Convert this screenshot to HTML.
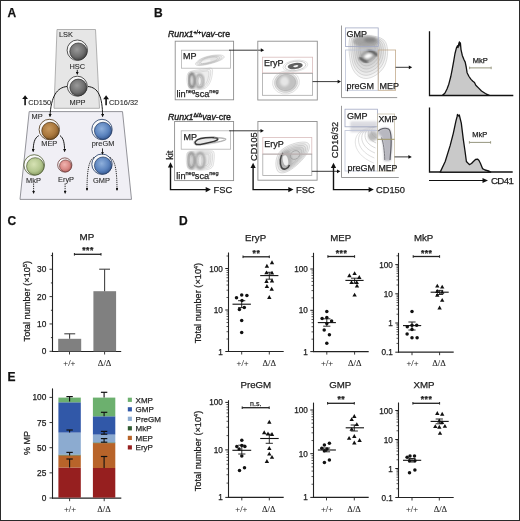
<!DOCTYPE html>
<html><head><meta charset="utf-8"><style>
html,body{margin:0;padding:0;background:#fff;}
svg{display:block;will-change:transform;}
svg text{stroke:#1e1e1e;stroke-width:0.25px;}
svg text.ta{stroke:#2a2a2a;stroke-width:0.1px;}
svg text.tt{stroke-width:0.4px;}
</style></head><body>
<svg width="520" height="521" viewBox="0 0 520 521">
<rect x="0" y="0" width="520" height="521" fill="#fff"/>

<defs>
 <radialGradient id="gGray" cx="0.42" cy="0.38" r="0.7">
   <stop offset="0" stop-color="#9a9a9a"/><stop offset="0.6" stop-color="#6e6e6e"/><stop offset="1" stop-color="#3a3a3a"/>
 </radialGradient>
 <radialGradient id="gBrown" cx="0.42" cy="0.38" r="0.7">
   <stop offset="0" stop-color="#c99a5e"/><stop offset="0.6" stop-color="#a8763c"/><stop offset="1" stop-color="#6e4a20"/>
 </radialGradient>
 <radialGradient id="gBlue" cx="0.42" cy="0.38" r="0.7">
   <stop offset="0" stop-color="#8fb0dc"/><stop offset="0.6" stop-color="#5a82bd"/><stop offset="1" stop-color="#2f5088"/>
 </radialGradient>
 <radialGradient id="gGreen" cx="0.42" cy="0.38" r="0.7">
   <stop offset="0" stop-color="#d6e2b4"/><stop offset="0.6" stop-color="#b3c68e"/><stop offset="1" stop-color="#7d9058"/>
 </radialGradient>
 <radialGradient id="gPink" cx="0.42" cy="0.38" r="0.7">
   <stop offset="0" stop-color="#f0b4b0"/><stop offset="0.6" stop-color="#d88884"/><stop offset="1" stop-color="#a85a58"/>
 </radialGradient>
 <marker id="ah" viewBox="0 0 6 6" refX="5" refY="3" markerWidth="4" markerHeight="4" orient="auto">
   <path d="M0,0 L6,3 L0,6 z" fill="#111"/>
 </marker>
 <marker id="ahs" viewBox="0 0 6 6" refX="5" refY="3" markerWidth="3.2" markerHeight="3.2" orient="auto">
   <path d="M0,0 L6,3 L0,6 z" fill="#111"/>
 </marker>
 <filter id="bl" x="-20%" y="-20%" width="140%" height="140%"><feGaussianBlur stdDeviation="0.8"/></filter>
 <filter id="bl2" x="-20%" y="-20%" width="140%" height="140%"><feGaussianBlur stdDeviation="1.0"/></filter>
</defs>
<text x="7.5" y="17" font-family="Liberation Sans, sans-serif" font-size="12" font-weight="bold" fill="#111">A</text>
<text x="154" y="17" font-family="Liberation Sans, sans-serif" font-size="12" font-weight="bold" fill="#111">B</text>
<text x="7.5" y="225.4" font-family="Liberation Sans, sans-serif" font-size="12" font-weight="bold" fill="#111">C</text>
<text x="179" y="225.2" font-family="Liberation Sans, sans-serif" font-size="12" font-weight="bold" fill="#111">D</text>
<text x="7.5" y="381" font-family="Liberation Sans, sans-serif" font-size="12" font-weight="bold" fill="#111">E</text>
<polygon points="57,29.5 95.5,29.5 99.5,108.3 54,108.3" fill="#e6e6e6" stroke="#a0a0a0" stroke-width="0.8"/>
<polygon points="29.2,111.6 122.5,111.6 131.5,199.4 20,199.4" fill="#f0eff5" stroke="#88888e" stroke-width="0.9"/>
<circle cx="77.3" cy="50.2" r="10.2" fill="#fafafa" stroke="#2a2a2a" stroke-width="0.8"/><circle cx="78.32" cy="51.53" r="8.57" fill="url(#gGray)" stroke="#2a2a2a" stroke-width="0.7"/>
<circle cx="77.3" cy="86.2" r="10" fill="#fafafa" stroke="#2a2a2a" stroke-width="0.8"/><circle cx="78.30" cy="87.50" r="8.40" fill="url(#gGray)" stroke="#2a2a2a" stroke-width="0.7"/>
<circle cx="49.3" cy="129.5" r="10.2" fill="#fafafa" stroke="#4a3010" stroke-width="0.8"/><circle cx="50.32" cy="130.83" r="8.57" fill="url(#gBrown)" stroke="#4a3010" stroke-width="0.7"/>
<circle cx="102" cy="129.5" r="10.2" fill="#fafafa" stroke="#1c3560" stroke-width="0.8"/><circle cx="103.02" cy="130.83" r="8.57" fill="url(#gBlue)" stroke="#1c3560" stroke-width="0.7"/>
<circle cx="34.2" cy="165" r="10.3" fill="#fafafa" stroke="#4c5a30" stroke-width="0.8"/><circle cx="35.23" cy="166.34" r="8.65" fill="url(#gGreen)" stroke="#4c5a30" stroke-width="0.7"/>
<circle cx="64.8" cy="165" r="7.1" fill="#fafafa" stroke="#6a3836" stroke-width="0.8"/><circle cx="65.51" cy="165.92" r="5.96" fill="url(#gPink)" stroke="#6a3836" stroke-width="0.7"/>
<circle cx="102" cy="164.2" r="10.2" fill="#fafafa" stroke="#1c3560" stroke-width="0.8"/><circle cx="103.02" cy="165.53" r="8.57" fill="url(#gBlue)" stroke="#1c3560" stroke-width="0.7"/>
<text class="ta" x="59" y="37.4" font-family="Liberation Sans, sans-serif" font-size="7.4" fill="#2a2a2a" text-anchor="start">LSK</text>
<text class="ta" x="77.3" y="69" font-family="Liberation Sans, sans-serif" font-size="7.4" fill="#2a2a2a" text-anchor="middle">HSC</text>
<text class="ta" x="77.5" y="104.6" font-family="Liberation Sans, sans-serif" font-size="7.4" fill="#2a2a2a" text-anchor="middle">MPP</text>
<text class="ta" x="31.5" y="119" font-family="Liberation Sans, sans-serif" font-size="7.4" fill="#2a2a2a" text-anchor="start">MP</text>
<text class="ta" x="49.3" y="146" font-family="Liberation Sans, sans-serif" font-size="7.4" fill="#2a2a2a" text-anchor="middle">MEP</text>
<text class="ta" x="103" y="145.6" font-family="Liberation Sans, sans-serif" font-size="7.4" fill="#2a2a2a" text-anchor="middle">preGM</text>
<text class="ta" x="33.5" y="182.5" font-family="Liberation Sans, sans-serif" font-size="7.4" fill="#2a2a2a" text-anchor="middle">MkP</text>
<text class="ta" x="66" y="181.8" font-family="Liberation Sans, sans-serif" font-size="7.4" fill="#2a2a2a" text-anchor="middle">EryP</text>
<text class="ta" x="101.5" y="182.5" font-family="Liberation Sans, sans-serif" font-size="7.4" fill="#2a2a2a" text-anchor="middle">GMP</text>
<line x1="77.3" y1="69.8" x2="77.3" y2="74.3" stroke="#1a1a1a" stroke-width="0.9" marker-end="url(#ahs)"/>
<path d="M67,86.5 C57,87.5 51,96 50,116.5" fill="none" stroke="#1a1a1a" stroke-width="1.0" marker-end="url(#ahs)"/>
<path d="M88,86.5 C98,87.5 102.5,96 102.6,116.5" fill="none" stroke="#1a1a1a" stroke-width="1.0" marker-end="url(#ahs)"/>
<path d="M22.200000000000003,99.10000000000001 L25.1,95.2 L28.0,99.10000000000001 z" fill="#111"/>
<line x1="25.1" y1="98.2" x2="25.1" y2="105.3" stroke="#111" stroke-width="1.6"/>
<path d="M103.19999999999999,99.2 L106.1,95.3 L109.0,99.2 z" fill="#111"/>
<line x1="106.1" y1="98.3" x2="106.1" y2="105.2" stroke="#111" stroke-width="1.6"/>
<text class="ta" x="28.2" y="104.7" font-family="Liberation Sans, sans-serif" font-size="7.4" fill="#2a2a2a" text-anchor="start">CD150</text>
<text class="ta" x="109" y="105.3" font-family="Liberation Sans, sans-serif" font-size="7.4" fill="#2a2a2a" text-anchor="start">CD16/32</text>
<path d="M38.8,135.6 C34.5,138 33.2,143 33.2,151.5" fill="none" stroke="#1a1a1a" stroke-width="1.0" marker-end="url(#ahs)"/>
<path d="M60,135.6 C63.5,138 64.6,143 64.6,151.5" fill="none" stroke="#1a1a1a" stroke-width="1.0" marker-end="url(#ahs)"/>
<line x1="102.5" y1="148.4" x2="102.5" y2="154.2" stroke="#1a1a1a" stroke-width="0.9" marker-end="url(#ahs)"/>
<line x1="33.6" y1="183.5" x2="33.6" y2="193.3" stroke="#1a1a1a" stroke-width="0.9" stroke-dasharray="1.3,0.9" marker-end="url(#ahs)"/>
<line x1="65.1" y1="183.5" x2="65.1" y2="193.3" stroke="#1a1a1a" stroke-width="0.9" stroke-dasharray="1.3,0.9" marker-end="url(#ahs)"/>
<path d="M94,157.5 C88.5,160 87,172 87,190.5" fill="none" stroke="#1a1a1a" stroke-width="0.9" stroke-dasharray="1.3,0.9" marker-end="url(#ahs)"/>
<path d="M110,157.5 C115.5,160 117,172 117,190.5" fill="none" stroke="#1a1a1a" stroke-width="0.9" stroke-dasharray="1.3,0.9" marker-end="url(#ahs)"/>
<line x1="52.5" y1="252.6" x2="52.5" y2="351.9" stroke="#222" stroke-width="1.1"/>
<line x1="52.0" y1="351.5" x2="121.2" y2="351.5" stroke="#222" stroke-width="1.2"/>
<line x1="49.5" y1="351.30" x2="52.5" y2="351.30" stroke="#222" stroke-width="0.9"/>
<text x="46.3" y="354.30" font-family="Liberation Sans, sans-serif" font-size="8.3" fill="#222" text-anchor="end">0</text>
<line x1="50.9" y1="337.62" x2="52.5" y2="337.62" stroke="#222" stroke-width="0.9"/>
<line x1="49.5" y1="323.95" x2="52.5" y2="323.95" stroke="#222" stroke-width="0.9"/>
<text x="46.3" y="326.95" font-family="Liberation Sans, sans-serif" font-size="8.3" fill="#222" text-anchor="end">10</text>
<line x1="50.9" y1="310.28" x2="52.5" y2="310.28" stroke="#222" stroke-width="0.9"/>
<line x1="49.5" y1="296.60" x2="52.5" y2="296.60" stroke="#222" stroke-width="0.9"/>
<text x="46.3" y="299.60" font-family="Liberation Sans, sans-serif" font-size="8.3" fill="#222" text-anchor="end">20</text>
<line x1="50.9" y1="282.93" x2="52.5" y2="282.93" stroke="#222" stroke-width="0.9"/>
<line x1="49.5" y1="269.25" x2="52.5" y2="269.25" stroke="#222" stroke-width="0.9"/>
<text x="46.3" y="272.25" font-family="Liberation Sans, sans-serif" font-size="8.3" fill="#222" text-anchor="end">30</text>
<line x1="50.9" y1="255.58" x2="52.5" y2="255.58" stroke="#222" stroke-width="0.9"/>
<line x1="69.5" y1="351.5" x2="69.5" y2="354.5" stroke="#222" stroke-width="0.9"/>
<line x1="104.6" y1="351.5" x2="104.6" y2="354.5" stroke="#222" stroke-width="0.9"/>
<rect x="58.2" y="338.8" width="23" height="12.6" fill="#808080"/>
<rect x="93.4" y="291.2" width="22.7" height="60.2" fill="#808080"/>
<line x1="69.6" y1="338.8" x2="69.6" y2="333.8" stroke="#444" stroke-width="1.1"/>
<line x1="64.3" y1="333.8" x2="75.2" y2="333.8" stroke="#444" stroke-width="1.1"/>
<line x1="104.6" y1="291.2" x2="104.6" y2="269.2" stroke="#444" stroke-width="1.1"/>
<line x1="99.2" y1="269.2" x2="110" y2="269.2" stroke="#444" stroke-width="1.1"/>
<text x="86.9" y="240.1" font-family="Liberation Sans, sans-serif" font-size="9.8" fill="#222" text-anchor="middle">MP</text>
<line x1="74.4" y1="254.3" x2="101" y2="254.3" stroke="#222" stroke-width="1.3"/>
<line x1="74.4" y1="253.0" x2="74.4" y2="255.60000000000002" stroke="#222" stroke-width="1.0"/>
<line x1="101" y1="253.0" x2="101" y2="255.60000000000002" stroke="#222" stroke-width="1.0"/>
<text x="88.0" y="253.4" font-family="Liberation Sans, sans-serif" font-size="8.6" font-weight="bold" fill="#222" text-anchor="middle" letter-spacing="0.5">***</text>
<text class="ta" x="69.4" y="365.6" font-family="Liberation Serif, serif" font-size="8.6" fill="#222" text-anchor="middle">+/+</text>
<text class="ta" x="104.6" y="365.6" font-family="Liberation Serif, serif" font-size="8.6" fill="#222" text-anchor="middle">&#916;/&#916;</text>
<text transform="translate(29.9,301.2) rotate(-90)" font-family="Liberation Sans, sans-serif" font-size="9.2" fill="#222" text-anchor="middle">Total number (&#215;10<tspan dy="-3" font-size="5.5">5</tspan><tspan dy="3">)</tspan></text>
<text x="255.6" y="240.6" font-family="Liberation Sans, sans-serif" font-size="9.7" fill="#222" text-anchor="middle">EryP</text>
<line x1="228.5" y1="252.5" x2="228.5" y2="351.9" stroke="#222" stroke-width="1.1"/>
<line x1="228.0" y1="351.5" x2="283.7" y2="351.5" stroke="#222" stroke-width="1.2"/>
<line x1="225.3" y1="351.50" x2="228.5" y2="351.50" stroke="#222" stroke-width="1.0"/>
<line x1="226.5" y1="339.01" x2="228.5" y2="339.01" stroke="#222" stroke-width="0.75"/>
<line x1="226.5" y1="331.70" x2="228.5" y2="331.70" stroke="#222" stroke-width="0.75"/>
<line x1="226.5" y1="326.51" x2="228.5" y2="326.51" stroke="#222" stroke-width="0.75"/>
<line x1="226.5" y1="322.49" x2="228.5" y2="322.49" stroke="#222" stroke-width="0.75"/>
<line x1="226.5" y1="319.21" x2="228.5" y2="319.21" stroke="#222" stroke-width="0.75"/>
<line x1="226.5" y1="316.43" x2="228.5" y2="316.43" stroke="#222" stroke-width="0.75"/>
<line x1="226.5" y1="314.02" x2="228.5" y2="314.02" stroke="#222" stroke-width="0.75"/>
<line x1="226.5" y1="311.90" x2="228.5" y2="311.90" stroke="#222" stroke-width="0.75"/>
<line x1="225.3" y1="310.00" x2="228.5" y2="310.00" stroke="#222" stroke-width="1.0"/>
<line x1="226.5" y1="297.51" x2="228.5" y2="297.51" stroke="#222" stroke-width="0.75"/>
<line x1="226.5" y1="290.20" x2="228.5" y2="290.20" stroke="#222" stroke-width="0.75"/>
<line x1="226.5" y1="285.01" x2="228.5" y2="285.01" stroke="#222" stroke-width="0.75"/>
<line x1="226.5" y1="280.99" x2="228.5" y2="280.99" stroke="#222" stroke-width="0.75"/>
<line x1="226.5" y1="277.71" x2="228.5" y2="277.71" stroke="#222" stroke-width="0.75"/>
<line x1="226.5" y1="274.93" x2="228.5" y2="274.93" stroke="#222" stroke-width="0.75"/>
<line x1="226.5" y1="272.52" x2="228.5" y2="272.52" stroke="#222" stroke-width="0.75"/>
<line x1="226.5" y1="270.40" x2="228.5" y2="270.40" stroke="#222" stroke-width="0.75"/>
<line x1="225.3" y1="268.50" x2="228.5" y2="268.50" stroke="#222" stroke-width="1.0"/>
<line x1="226.5" y1="256.01" x2="228.5" y2="256.01" stroke="#222" stroke-width="0.75"/>
<text x="222.9" y="354.50" font-family="Liberation Sans, sans-serif" font-size="8.2" fill="#222" text-anchor="end">1</text>
<text x="222.9" y="313.00" font-family="Liberation Sans, sans-serif" font-size="8.2" fill="#222" text-anchor="end">10</text>
<text x="222.9" y="271.50" font-family="Liberation Sans, sans-serif" font-size="8.2" fill="#222" text-anchor="end">100</text>
<line x1="241.7" y1="351.5" x2="241.7" y2="354.5" stroke="#222" stroke-width="0.9"/>
<line x1="269.3" y1="351.5" x2="269.3" y2="354.5" stroke="#222" stroke-width="0.9"/>
<line x1="243" y1="256.8" x2="269.3" y2="256.8" stroke="#222" stroke-width="1.3"/>
<line x1="243" y1="255.5" x2="243" y2="258.1" stroke="#222" stroke-width="1.0"/>
<line x1="269.3" y1="255.5" x2="269.3" y2="258.1" stroke="#222" stroke-width="1.0"/>
<text x="256.45" y="255.9" font-family="Liberation Sans, sans-serif" font-size="8.6" font-weight="bold" fill="#222" text-anchor="middle" letter-spacing="0.5">**</text>
<circle cx="241.7" cy="295" r="1.75" fill="#111"/>
<circle cx="246.9" cy="295.5" r="1.75" fill="#111"/>
<circle cx="236.5" cy="297.8" r="1.75" fill="#111"/>
<circle cx="242" cy="300.5" r="1.75" fill="#111"/>
<circle cx="239.4" cy="309.4" r="1.75" fill="#111"/>
<circle cx="244.3" cy="307.6" r="1.75" fill="#111"/>
<circle cx="241.7" cy="320.5" r="1.75" fill="#111"/>
<circle cx="241.7" cy="332.6" r="1.75" fill="#111"/>
<path d="M272,260.3 L274.2,264.20000000000005 L269.8,264.20000000000005 z" fill="#111"/>
<path d="M266.9,263.8 L269.09999999999997,267.70000000000005 L264.7,267.70000000000005 z" fill="#111"/>
<path d="M266.5,270.4 L268.7,274.3 L264.3,274.3 z" fill="#111"/>
<path d="M272,270.7 L274.2,274.6 L269.8,274.6 z" fill="#111"/>
<path d="M266.5,279.09999999999997 L268.7,283.0 L264.3,283.0 z" fill="#111"/>
<path d="M272,278.59999999999997 L274.2,282.5 L269.8,282.5 z" fill="#111"/>
<path d="M266.9,284.0 L269.09999999999997,287.90000000000003 L264.7,287.90000000000003 z" fill="#111"/>
<path d="M271.7,286.8 L273.9,290.70000000000005 L269.5,290.70000000000005 z" fill="#111"/>
<path d="M269.3,295.09999999999997 L271.5,299.0 L267.1,299.0 z" fill="#111"/>
<line x1="232.5" y1="304.2" x2="250.9" y2="304.2" stroke="#111" stroke-width="1.1"/>
<line x1="241.7" y1="300.7" x2="241.7" y2="307.6" stroke="#111" stroke-width="0.9"/>
<line x1="238.1" y1="300.7" x2="245.29999999999998" y2="300.7" stroke="#111" stroke-width="0.9"/>
<line x1="238.1" y1="307.6" x2="245.29999999999998" y2="307.6" stroke="#111" stroke-width="0.9"/>
<line x1="260.2" y1="275.6" x2="278.4" y2="275.6" stroke="#111" stroke-width="1.1"/>
<line x1="269.3" y1="272.3" x2="269.3" y2="279.2" stroke="#111" stroke-width="0.9"/>
<line x1="265.7" y1="272.3" x2="272.90000000000003" y2="272.3" stroke="#111" stroke-width="0.9"/>
<line x1="265.7" y1="279.2" x2="272.90000000000003" y2="279.2" stroke="#111" stroke-width="0.9"/>
<text class="ta" x="242.6" y="365.8" font-family="Liberation Serif, serif" font-size="8.6" fill="#222" text-anchor="middle">+/+</text>
<text class="ta" x="269.2" y="365.8" font-family="Liberation Serif, serif" font-size="8.6" fill="#222" text-anchor="middle">&#916;/&#916;</text>
<text x="340.7" y="240.6" font-family="Liberation Sans, sans-serif" font-size="9.7" fill="#222" text-anchor="middle">MEP</text>
<line x1="313.5" y1="252.8" x2="313.5" y2="352.0" stroke="#222" stroke-width="1.1"/>
<line x1="313.0" y1="351.6" x2="368.7" y2="351.6" stroke="#222" stroke-width="1.2"/>
<line x1="310.3" y1="351.60" x2="313.5" y2="351.60" stroke="#222" stroke-width="1.0"/>
<line x1="311.5" y1="339.17" x2="313.5" y2="339.17" stroke="#222" stroke-width="0.75"/>
<line x1="311.5" y1="331.89" x2="313.5" y2="331.89" stroke="#222" stroke-width="0.75"/>
<line x1="311.5" y1="326.73" x2="313.5" y2="326.73" stroke="#222" stroke-width="0.75"/>
<line x1="311.5" y1="322.73" x2="313.5" y2="322.73" stroke="#222" stroke-width="0.75"/>
<line x1="311.5" y1="319.46" x2="313.5" y2="319.46" stroke="#222" stroke-width="0.75"/>
<line x1="311.5" y1="316.70" x2="313.5" y2="316.70" stroke="#222" stroke-width="0.75"/>
<line x1="311.5" y1="314.30" x2="313.5" y2="314.30" stroke="#222" stroke-width="0.75"/>
<line x1="311.5" y1="312.19" x2="313.5" y2="312.19" stroke="#222" stroke-width="0.75"/>
<line x1="310.3" y1="310.30" x2="313.5" y2="310.30" stroke="#222" stroke-width="1.0"/>
<line x1="311.5" y1="297.87" x2="313.5" y2="297.87" stroke="#222" stroke-width="0.75"/>
<line x1="311.5" y1="290.59" x2="313.5" y2="290.59" stroke="#222" stroke-width="0.75"/>
<line x1="311.5" y1="285.43" x2="313.5" y2="285.43" stroke="#222" stroke-width="0.75"/>
<line x1="311.5" y1="281.43" x2="313.5" y2="281.43" stroke="#222" stroke-width="0.75"/>
<line x1="311.5" y1="278.16" x2="313.5" y2="278.16" stroke="#222" stroke-width="0.75"/>
<line x1="311.5" y1="275.40" x2="313.5" y2="275.40" stroke="#222" stroke-width="0.75"/>
<line x1="311.5" y1="273.00" x2="313.5" y2="273.00" stroke="#222" stroke-width="0.75"/>
<line x1="311.5" y1="270.89" x2="313.5" y2="270.89" stroke="#222" stroke-width="0.75"/>
<line x1="310.3" y1="269.00" x2="313.5" y2="269.00" stroke="#222" stroke-width="1.0"/>
<line x1="311.5" y1="256.57" x2="313.5" y2="256.57" stroke="#222" stroke-width="0.75"/>
<text x="307.9" y="354.60" font-family="Liberation Sans, sans-serif" font-size="8.2" fill="#222" text-anchor="end">1</text>
<text x="307.9" y="313.30" font-family="Liberation Sans, sans-serif" font-size="8.2" fill="#222" text-anchor="end">10</text>
<text x="307.9" y="272.00" font-family="Liberation Sans, sans-serif" font-size="8.2" fill="#222" text-anchor="end">100</text>
<line x1="326.8" y1="351.6" x2="326.8" y2="354.6" stroke="#222" stroke-width="0.9"/>
<line x1="354.6" y1="351.6" x2="354.6" y2="354.6" stroke="#222" stroke-width="0.9"/>
<line x1="327.9" y1="256.5" x2="354.6" y2="256.5" stroke="#222" stroke-width="1.3"/>
<line x1="327.9" y1="255.2" x2="327.9" y2="257.8" stroke="#222" stroke-width="1.0"/>
<line x1="354.6" y1="255.2" x2="354.6" y2="257.8" stroke="#222" stroke-width="1.0"/>
<text x="341.55" y="255.6" font-family="Liberation Sans, sans-serif" font-size="8.6" font-weight="bold" fill="#222" text-anchor="middle" letter-spacing="0.5">***</text>
<circle cx="326.8" cy="311.5" r="1.75" fill="#111"/>
<circle cx="322.1" cy="318.4" r="1.75" fill="#111"/>
<circle cx="326.8" cy="317.4" r="1.75" fill="#111"/>
<circle cx="331.6" cy="320.9" r="1.75" fill="#111"/>
<circle cx="326.8" cy="323.6" r="1.75" fill="#111"/>
<circle cx="324.2" cy="330" r="1.75" fill="#111"/>
<circle cx="329.4" cy="334.7" r="1.75" fill="#111"/>
<circle cx="326.8" cy="343.3" r="1.75" fill="#111"/>
<path d="M354.6,271.2 L356.8,275.1 L352.40000000000003,275.1 z" fill="#111"/>
<path d="M349.4,273.3 L351.59999999999997,277.20000000000005 L347.2,277.20000000000005 z" fill="#111"/>
<path d="M359.3,275.0 L361.5,278.90000000000003 L357.1,278.90000000000003 z" fill="#111"/>
<path d="M351.5,280.2 L353.7,284.1 L349.3,284.1 z" fill="#111"/>
<path d="M356.7,280.2 L358.9,284.1 L354.5,284.1 z" fill="#111"/>
<path d="M357,283.7 L359.2,287.6 L354.8,287.6 z" fill="#111"/>
<path d="M354.6,292.7 L356.8,296.6 L352.40000000000003,296.6 z" fill="#111"/>
<line x1="317.8" y1="322.6" x2="335.9" y2="322.6" stroke="#111" stroke-width="1.1"/>
<line x1="326.8" y1="318.8" x2="326.8" y2="326.2" stroke="#111" stroke-width="0.9"/>
<line x1="323.2" y1="318.8" x2="330.40000000000003" y2="318.8" stroke="#111" stroke-width="0.9"/>
<line x1="323.2" y1="326.2" x2="330.40000000000003" y2="326.2" stroke="#111" stroke-width="0.9"/>
<line x1="345.4" y1="280.4" x2="363.6" y2="280.4" stroke="#111" stroke-width="1.1"/>
<line x1="354.6" y1="278.2" x2="354.6" y2="283.2" stroke="#111" stroke-width="0.9"/>
<line x1="351.0" y1="278.2" x2="358.20000000000005" y2="278.2" stroke="#111" stroke-width="0.9"/>
<line x1="351.0" y1="283.2" x2="358.20000000000005" y2="283.2" stroke="#111" stroke-width="0.9"/>
<text class="ta" x="327.1" y="365.8" font-family="Liberation Serif, serif" font-size="8.6" fill="#222" text-anchor="middle">+/+</text>
<text class="ta" x="354.8" y="365.8" font-family="Liberation Serif, serif" font-size="8.6" fill="#222" text-anchor="middle">&#916;/&#916;</text>
<text x="423.6" y="240.6" font-family="Liberation Sans, sans-serif" font-size="9.7" fill="#222" text-anchor="middle">MkP</text>
<line x1="398.5" y1="252.9" x2="398.5" y2="352.59999999999997" stroke="#222" stroke-width="1.1"/>
<line x1="398.0" y1="352.2" x2="453.7" y2="352.2" stroke="#222" stroke-width="1.2"/>
<line x1="395.3" y1="352.20" x2="398.5" y2="352.20" stroke="#222" stroke-width="1.0"/>
<line x1="396.5" y1="343.41" x2="398.5" y2="343.41" stroke="#222" stroke-width="0.75"/>
<line x1="396.5" y1="338.27" x2="398.5" y2="338.27" stroke="#222" stroke-width="0.75"/>
<line x1="396.5" y1="334.62" x2="398.5" y2="334.62" stroke="#222" stroke-width="0.75"/>
<line x1="396.5" y1="331.79" x2="398.5" y2="331.79" stroke="#222" stroke-width="0.75"/>
<line x1="396.5" y1="329.48" x2="398.5" y2="329.48" stroke="#222" stroke-width="0.75"/>
<line x1="396.5" y1="327.52" x2="398.5" y2="327.52" stroke="#222" stroke-width="0.75"/>
<line x1="396.5" y1="325.83" x2="398.5" y2="325.83" stroke="#222" stroke-width="0.75"/>
<line x1="396.5" y1="324.34" x2="398.5" y2="324.34" stroke="#222" stroke-width="0.75"/>
<line x1="395.3" y1="323.00" x2="398.5" y2="323.00" stroke="#222" stroke-width="1.0"/>
<line x1="396.5" y1="314.21" x2="398.5" y2="314.21" stroke="#222" stroke-width="0.75"/>
<line x1="396.5" y1="309.07" x2="398.5" y2="309.07" stroke="#222" stroke-width="0.75"/>
<line x1="396.5" y1="305.42" x2="398.5" y2="305.42" stroke="#222" stroke-width="0.75"/>
<line x1="396.5" y1="302.59" x2="398.5" y2="302.59" stroke="#222" stroke-width="0.75"/>
<line x1="396.5" y1="300.28" x2="398.5" y2="300.28" stroke="#222" stroke-width="0.75"/>
<line x1="396.5" y1="298.32" x2="398.5" y2="298.32" stroke="#222" stroke-width="0.75"/>
<line x1="396.5" y1="296.63" x2="398.5" y2="296.63" stroke="#222" stroke-width="0.75"/>
<line x1="396.5" y1="295.14" x2="398.5" y2="295.14" stroke="#222" stroke-width="0.75"/>
<line x1="395.3" y1="293.80" x2="398.5" y2="293.80" stroke="#222" stroke-width="1.0"/>
<line x1="396.5" y1="285.01" x2="398.5" y2="285.01" stroke="#222" stroke-width="0.75"/>
<line x1="396.5" y1="279.87" x2="398.5" y2="279.87" stroke="#222" stroke-width="0.75"/>
<line x1="396.5" y1="276.22" x2="398.5" y2="276.22" stroke="#222" stroke-width="0.75"/>
<line x1="396.5" y1="273.39" x2="398.5" y2="273.39" stroke="#222" stroke-width="0.75"/>
<line x1="396.5" y1="271.08" x2="398.5" y2="271.08" stroke="#222" stroke-width="0.75"/>
<line x1="396.5" y1="269.12" x2="398.5" y2="269.12" stroke="#222" stroke-width="0.75"/>
<line x1="396.5" y1="267.43" x2="398.5" y2="267.43" stroke="#222" stroke-width="0.75"/>
<line x1="396.5" y1="265.94" x2="398.5" y2="265.94" stroke="#222" stroke-width="0.75"/>
<line x1="395.3" y1="264.60" x2="398.5" y2="264.60" stroke="#222" stroke-width="1.0"/>
<line x1="396.5" y1="255.81" x2="398.5" y2="255.81" stroke="#222" stroke-width="0.75"/>
<text x="392.9" y="355.20" font-family="Liberation Sans, sans-serif" font-size="8.2" fill="#222" text-anchor="end">0.1</text>
<text x="392.9" y="326.00" font-family="Liberation Sans, sans-serif" font-size="8.2" fill="#222" text-anchor="end">1</text>
<text x="392.9" y="296.80" font-family="Liberation Sans, sans-serif" font-size="8.2" fill="#222" text-anchor="end">10</text>
<text x="392.9" y="267.60" font-family="Liberation Sans, sans-serif" font-size="8.2" fill="#222" text-anchor="end">100</text>
<line x1="412" y1="352.2" x2="412" y2="355.2" stroke="#222" stroke-width="0.9"/>
<line x1="439.6" y1="352.2" x2="439.6" y2="355.2" stroke="#222" stroke-width="0.9"/>
<line x1="413.2" y1="256.5" x2="439.6" y2="256.5" stroke="#222" stroke-width="1.3"/>
<line x1="413.2" y1="255.2" x2="413.2" y2="257.8" stroke="#222" stroke-width="1.0"/>
<line x1="439.6" y1="255.2" x2="439.6" y2="257.8" stroke="#222" stroke-width="1.0"/>
<text x="426.7" y="255.6" font-family="Liberation Sans, sans-serif" font-size="8.6" font-weight="bold" fill="#222" text-anchor="middle" letter-spacing="0.5">***</text>
<circle cx="412" cy="311.5" r="1.75" fill="#111"/>
<circle cx="412" cy="325.3" r="1.75" fill="#111"/>
<circle cx="407.3" cy="326.7" r="1.75" fill="#111"/>
<circle cx="416.7" cy="325.3" r="1.75" fill="#111"/>
<circle cx="412" cy="329.4" r="1.75" fill="#111"/>
<circle cx="407.1" cy="334" r="1.75" fill="#111"/>
<circle cx="412" cy="337.8" r="1.75" fill="#111"/>
<circle cx="417.1" cy="337.8" r="1.75" fill="#111"/>
<path d="M437.3,283.7 L439.5,287.6 L435.1,287.6 z" fill="#111"/>
<path d="M442.2,284.7 L444.4,288.6 L440.0,288.6 z" fill="#111"/>
<path d="M437.3,289.09999999999997 L439.5,293.0 L435.1,293.0 z" fill="#111"/>
<path d="M442.2,289.9 L444.4,293.8 L440.0,293.8 z" fill="#111"/>
<path d="M437.3,292.8 L439.5,296.70000000000005 L435.1,296.70000000000005 z" fill="#111"/>
<path d="M442.2,297.9 L444.4,301.8 L440.0,301.8 z" fill="#111"/>
<path d="M439.6,305.59999999999997 L441.8,309.5 L437.40000000000003,309.5 z" fill="#111"/>
<line x1="403" y1="325.6" x2="421.2" y2="325.6" stroke="#111" stroke-width="1.1"/>
<line x1="412" y1="322" x2="412" y2="330" stroke="#111" stroke-width="0.9"/>
<line x1="408.4" y1="322" x2="415.6" y2="322" stroke="#111" stroke-width="0.9"/>
<line x1="408.4" y1="330" x2="415.6" y2="330" stroke="#111" stroke-width="0.9"/>
<line x1="430.6" y1="292.2" x2="448.7" y2="292.2" stroke="#111" stroke-width="1.1"/>
<line x1="439.6" y1="290.4" x2="439.6" y2="294.5" stroke="#111" stroke-width="0.9"/>
<line x1="436.0" y1="290.4" x2="443.20000000000005" y2="290.4" stroke="#111" stroke-width="0.9"/>
<line x1="436.0" y1="294.5" x2="443.20000000000005" y2="294.5" stroke="#111" stroke-width="0.9"/>
<text class="ta" x="412.5" y="365.8" font-family="Liberation Serif, serif" font-size="8.6" fill="#222" text-anchor="middle">+/+</text>
<text class="ta" x="439" y="365.8" font-family="Liberation Serif, serif" font-size="8.6" fill="#222" text-anchor="middle">&#916;/&#916;</text>
<text x="255.8" y="387.7" font-family="Liberation Sans, sans-serif" font-size="9.7" fill="#222" text-anchor="middle">PreGM</text>
<line x1="228.5" y1="400.2" x2="228.5" y2="497.79999999999995" stroke="#222" stroke-width="1.1"/>
<line x1="228.0" y1="497.4" x2="283.7" y2="497.4" stroke="#222" stroke-width="1.2"/>
<line x1="225.3" y1="497.40" x2="228.5" y2="497.40" stroke="#222" stroke-width="1.0"/>
<line x1="226.5" y1="483.10" x2="228.5" y2="483.10" stroke="#222" stroke-width="0.75"/>
<line x1="226.5" y1="474.74" x2="228.5" y2="474.74" stroke="#222" stroke-width="0.75"/>
<line x1="226.5" y1="468.80" x2="228.5" y2="468.80" stroke="#222" stroke-width="0.75"/>
<line x1="226.5" y1="464.20" x2="228.5" y2="464.20" stroke="#222" stroke-width="0.75"/>
<line x1="226.5" y1="460.44" x2="228.5" y2="460.44" stroke="#222" stroke-width="0.75"/>
<line x1="226.5" y1="457.26" x2="228.5" y2="457.26" stroke="#222" stroke-width="0.75"/>
<line x1="226.5" y1="454.50" x2="228.5" y2="454.50" stroke="#222" stroke-width="0.75"/>
<line x1="226.5" y1="452.07" x2="228.5" y2="452.07" stroke="#222" stroke-width="0.75"/>
<line x1="225.3" y1="449.90" x2="228.5" y2="449.90" stroke="#222" stroke-width="1.0"/>
<line x1="226.5" y1="435.60" x2="228.5" y2="435.60" stroke="#222" stroke-width="0.75"/>
<line x1="226.5" y1="427.24" x2="228.5" y2="427.24" stroke="#222" stroke-width="0.75"/>
<line x1="226.5" y1="421.30" x2="228.5" y2="421.30" stroke="#222" stroke-width="0.75"/>
<line x1="226.5" y1="416.70" x2="228.5" y2="416.70" stroke="#222" stroke-width="0.75"/>
<line x1="226.5" y1="412.94" x2="228.5" y2="412.94" stroke="#222" stroke-width="0.75"/>
<line x1="226.5" y1="409.76" x2="228.5" y2="409.76" stroke="#222" stroke-width="0.75"/>
<line x1="226.5" y1="407.00" x2="228.5" y2="407.00" stroke="#222" stroke-width="0.75"/>
<line x1="226.5" y1="404.57" x2="228.5" y2="404.57" stroke="#222" stroke-width="0.75"/>
<line x1="225.3" y1="402.40" x2="228.5" y2="402.40" stroke="#222" stroke-width="1.0"/>
<text x="222.9" y="500.40" font-family="Liberation Sans, sans-serif" font-size="8.2" fill="#222" text-anchor="end">1</text>
<text x="222.9" y="452.90" font-family="Liberation Sans, sans-serif" font-size="8.2" fill="#222" text-anchor="end">10</text>
<text x="222.9" y="405.40" font-family="Liberation Sans, sans-serif" font-size="8.2" fill="#222" text-anchor="end">100</text>
<line x1="241.8" y1="497.4" x2="241.8" y2="500.4" stroke="#222" stroke-width="0.9"/>
<line x1="269.3" y1="497.4" x2="269.3" y2="500.4" stroke="#222" stroke-width="0.9"/>
<line x1="242.2" y1="407.7" x2="269.2" y2="407.7" stroke="#222" stroke-width="1.3"/>
<line x1="242.2" y1="406.4" x2="242.2" y2="409.0" stroke="#222" stroke-width="1.0"/>
<line x1="269.2" y1="406.4" x2="269.2" y2="409.0" stroke="#222" stroke-width="1.0"/>
<text x="255.7" y="406.3" font-family="Liberation Sans, sans-serif" font-size="7" fill="#333" text-anchor="middle">n.s.</text>
<circle cx="241.8" cy="440.2" r="1.75" fill="#111"/>
<circle cx="236.8" cy="446.5" r="1.75" fill="#111"/>
<circle cx="241.8" cy="445.6" r="1.75" fill="#111"/>
<circle cx="244.9" cy="446.5" r="1.75" fill="#111"/>
<circle cx="239.1" cy="448.9" r="1.75" fill="#111"/>
<circle cx="241.8" cy="455.9" r="1.75" fill="#111"/>
<circle cx="239.5" cy="470.4" r="1.75" fill="#111"/>
<circle cx="244.5" cy="467.7" r="1.75" fill="#111"/>
<path d="M269.3,419.8 L271.5,423.70000000000005 L267.1,423.70000000000005 z" fill="#111"/>
<path d="M264.2,430.3 L266.4,434.20000000000005 L262.0,434.20000000000005 z" fill="#111"/>
<path d="M268,431.59999999999997 L270.2,435.5 L265.8,435.5 z" fill="#111"/>
<path d="M272,432.09999999999997 L274.2,436.0 L269.8,436.0 z" fill="#111"/>
<path d="M269.3,446.0 L271.5,449.90000000000003 L267.1,449.90000000000003 z" fill="#111"/>
<path d="M269.3,451.7 L271.5,455.6 L267.1,455.6 z" fill="#111"/>
<path d="M272,454.9 L274.2,458.8 L269.8,458.8 z" fill="#111"/>
<path d="M266.9,459.0 L269.09999999999997,462.90000000000003 L264.7,462.90000000000003 z" fill="#111"/>
<line x1="232.4" y1="450.3" x2="251.2" y2="450.3" stroke="#111" stroke-width="1.1"/>
<line x1="241.8" y1="445.2" x2="241.8" y2="454" stroke="#111" stroke-width="0.9"/>
<line x1="238.20000000000002" y1="445.2" x2="245.4" y2="445.2" stroke="#111" stroke-width="0.9"/>
<line x1="238.20000000000002" y1="454" x2="245.4" y2="454" stroke="#111" stroke-width="0.9"/>
<line x1="260.2" y1="438.5" x2="278.7" y2="438.5" stroke="#111" stroke-width="1.1"/>
<line x1="269.3" y1="434.2" x2="269.3" y2="443.3" stroke="#111" stroke-width="0.9"/>
<line x1="265.7" y1="434.2" x2="272.90000000000003" y2="434.2" stroke="#111" stroke-width="0.9"/>
<line x1="265.7" y1="443.3" x2="272.90000000000003" y2="443.3" stroke="#111" stroke-width="0.9"/>
<text class="ta" x="241.4" y="511.6" font-family="Liberation Serif, serif" font-size="8.6" fill="#222" text-anchor="middle">+/+</text>
<text class="ta" x="268.7" y="511.6" font-family="Liberation Serif, serif" font-size="8.6" fill="#222" text-anchor="middle">&#916;/&#916;</text>
<text x="340.2" y="387.7" font-family="Liberation Sans, sans-serif" font-size="9.7" fill="#222" text-anchor="middle">GMP</text>
<line x1="313.5" y1="402.6" x2="313.5" y2="497.79999999999995" stroke="#222" stroke-width="1.1"/>
<line x1="313.0" y1="497.4" x2="368.7" y2="497.4" stroke="#222" stroke-width="1.2"/>
<line x1="310.3" y1="497.40" x2="313.5" y2="497.40" stroke="#222" stroke-width="1.0"/>
<line x1="311.5" y1="484.24" x2="313.5" y2="484.24" stroke="#222" stroke-width="0.75"/>
<line x1="311.5" y1="476.55" x2="313.5" y2="476.55" stroke="#222" stroke-width="0.75"/>
<line x1="311.5" y1="471.09" x2="313.5" y2="471.09" stroke="#222" stroke-width="0.75"/>
<line x1="311.5" y1="466.86" x2="313.5" y2="466.86" stroke="#222" stroke-width="0.75"/>
<line x1="311.5" y1="463.39" x2="313.5" y2="463.39" stroke="#222" stroke-width="0.75"/>
<line x1="311.5" y1="460.47" x2="313.5" y2="460.47" stroke="#222" stroke-width="0.75"/>
<line x1="311.5" y1="457.93" x2="313.5" y2="457.93" stroke="#222" stroke-width="0.75"/>
<line x1="311.5" y1="455.70" x2="313.5" y2="455.70" stroke="#222" stroke-width="0.75"/>
<line x1="310.3" y1="453.70" x2="313.5" y2="453.70" stroke="#222" stroke-width="1.0"/>
<line x1="311.5" y1="440.54" x2="313.5" y2="440.54" stroke="#222" stroke-width="0.75"/>
<line x1="311.5" y1="432.85" x2="313.5" y2="432.85" stroke="#222" stroke-width="0.75"/>
<line x1="311.5" y1="427.39" x2="313.5" y2="427.39" stroke="#222" stroke-width="0.75"/>
<line x1="311.5" y1="423.16" x2="313.5" y2="423.16" stroke="#222" stroke-width="0.75"/>
<line x1="311.5" y1="419.69" x2="313.5" y2="419.69" stroke="#222" stroke-width="0.75"/>
<line x1="311.5" y1="416.77" x2="313.5" y2="416.77" stroke="#222" stroke-width="0.75"/>
<line x1="311.5" y1="414.23" x2="313.5" y2="414.23" stroke="#222" stroke-width="0.75"/>
<line x1="311.5" y1="412.00" x2="313.5" y2="412.00" stroke="#222" stroke-width="0.75"/>
<line x1="310.3" y1="410.00" x2="313.5" y2="410.00" stroke="#222" stroke-width="1.0"/>
<text x="307.9" y="500.40" font-family="Liberation Sans, sans-serif" font-size="8.2" fill="#222" text-anchor="end">1</text>
<text x="307.9" y="456.70" font-family="Liberation Sans, sans-serif" font-size="8.2" fill="#222" text-anchor="end">10</text>
<text x="307.9" y="413.00" font-family="Liberation Sans, sans-serif" font-size="8.2" fill="#222" text-anchor="end">100</text>
<line x1="326.5" y1="497.4" x2="326.5" y2="500.4" stroke="#222" stroke-width="0.9"/>
<line x1="354.3" y1="497.4" x2="354.3" y2="500.4" stroke="#222" stroke-width="0.9"/>
<line x1="327.6" y1="403.3" x2="354.3" y2="403.3" stroke="#222" stroke-width="1.3"/>
<line x1="327.6" y1="402.0" x2="327.6" y2="404.6" stroke="#222" stroke-width="1.0"/>
<line x1="354.3" y1="402.0" x2="354.3" y2="404.6" stroke="#222" stroke-width="1.0"/>
<text x="341.25000000000006" y="402.40000000000003" font-family="Liberation Sans, sans-serif" font-size="8.6" font-weight="bold" fill="#222" text-anchor="middle" letter-spacing="0.5">**</text>
<circle cx="329.4" cy="443.2" r="1.75" fill="#111"/>
<circle cx="324.4" cy="445.1" r="1.75" fill="#111"/>
<circle cx="321.8" cy="448.2" r="1.75" fill="#111"/>
<circle cx="327" cy="449" r="1.75" fill="#111"/>
<circle cx="324.4" cy="450.8" r="1.75" fill="#111"/>
<circle cx="329.4" cy="460" r="1.75" fill="#111"/>
<circle cx="324.4" cy="462.6" r="1.75" fill="#111"/>
<path d="M354.3,414.0 L356.5,417.90000000000003 L352.1,417.90000000000003 z" fill="#111"/>
<path d="M351.7,417.2 L353.9,421.1 L349.5,421.1 z" fill="#111"/>
<path d="M356.8,422.2 L359.0,426.1 L354.6,426.1 z" fill="#111"/>
<path d="M351.7,426.9 L353.9,430.8 L349.5,430.8 z" fill="#111"/>
<path d="M354.3,434.09999999999997 L356.5,438.0 L352.1,438.0 z" fill="#111"/>
<path d="M349.1,435.9 L351.3,439.8 L346.90000000000003,439.8 z" fill="#111"/>
<path d="M359.6,438.0 L361.8,441.90000000000003 L357.40000000000003,441.90000000000003 z" fill="#111"/>
<path d="M354.3,440.5 L356.5,444.40000000000003 L352.1,444.40000000000003 z" fill="#111"/>
<line x1="317.9" y1="450" x2="335.9" y2="450" stroke="#111" stroke-width="1.1"/>
<line x1="326.5" y1="448" x2="326.5" y2="451.8" stroke="#111" stroke-width="0.9"/>
<line x1="322.9" y1="448" x2="330.1" y2="448" stroke="#111" stroke-width="0.9"/>
<line x1="322.9" y1="451.8" x2="330.1" y2="451.8" stroke="#111" stroke-width="0.9"/>
<line x1="345.7" y1="427.8" x2="364" y2="427.8" stroke="#111" stroke-width="1.1"/>
<line x1="354.3" y1="425" x2="354.3" y2="431" stroke="#111" stroke-width="0.9"/>
<line x1="350.7" y1="425" x2="357.90000000000003" y2="425" stroke="#111" stroke-width="0.9"/>
<line x1="350.7" y1="431" x2="357.90000000000003" y2="431" stroke="#111" stroke-width="0.9"/>
<text class="ta" x="327" y="511.6" font-family="Liberation Serif, serif" font-size="8.6" fill="#222" text-anchor="middle">+/+</text>
<text class="ta" x="354.1" y="511.6" font-family="Liberation Serif, serif" font-size="8.6" fill="#222" text-anchor="middle">&#916;/&#916;</text>
<text x="424" y="387.7" font-family="Liberation Sans, sans-serif" font-size="9.7" fill="#222" text-anchor="middle">XMP</text>
<line x1="398.5" y1="402.5" x2="398.5" y2="497.9" stroke="#222" stroke-width="1.1"/>
<line x1="398.0" y1="497.5" x2="453.7" y2="497.5" stroke="#222" stroke-width="1.2"/>
<line x1="395.3" y1="497.50" x2="398.5" y2="497.50" stroke="#222" stroke-width="1.0"/>
<line x1="396.5" y1="488.77" x2="398.5" y2="488.77" stroke="#222" stroke-width="0.75"/>
<line x1="396.5" y1="483.66" x2="398.5" y2="483.66" stroke="#222" stroke-width="0.75"/>
<line x1="396.5" y1="480.04" x2="398.5" y2="480.04" stroke="#222" stroke-width="0.75"/>
<line x1="396.5" y1="477.23" x2="398.5" y2="477.23" stroke="#222" stroke-width="0.75"/>
<line x1="396.5" y1="474.93" x2="398.5" y2="474.93" stroke="#222" stroke-width="0.75"/>
<line x1="396.5" y1="472.99" x2="398.5" y2="472.99" stroke="#222" stroke-width="0.75"/>
<line x1="396.5" y1="471.31" x2="398.5" y2="471.31" stroke="#222" stroke-width="0.75"/>
<line x1="396.5" y1="469.83" x2="398.5" y2="469.83" stroke="#222" stroke-width="0.75"/>
<line x1="395.3" y1="468.50" x2="398.5" y2="468.50" stroke="#222" stroke-width="1.0"/>
<line x1="396.5" y1="459.77" x2="398.5" y2="459.77" stroke="#222" stroke-width="0.75"/>
<line x1="396.5" y1="454.66" x2="398.5" y2="454.66" stroke="#222" stroke-width="0.75"/>
<line x1="396.5" y1="451.04" x2="398.5" y2="451.04" stroke="#222" stroke-width="0.75"/>
<line x1="396.5" y1="448.23" x2="398.5" y2="448.23" stroke="#222" stroke-width="0.75"/>
<line x1="396.5" y1="445.93" x2="398.5" y2="445.93" stroke="#222" stroke-width="0.75"/>
<line x1="396.5" y1="443.99" x2="398.5" y2="443.99" stroke="#222" stroke-width="0.75"/>
<line x1="396.5" y1="442.31" x2="398.5" y2="442.31" stroke="#222" stroke-width="0.75"/>
<line x1="396.5" y1="440.83" x2="398.5" y2="440.83" stroke="#222" stroke-width="0.75"/>
<line x1="395.3" y1="439.50" x2="398.5" y2="439.50" stroke="#222" stroke-width="1.0"/>
<line x1="396.5" y1="430.77" x2="398.5" y2="430.77" stroke="#222" stroke-width="0.75"/>
<line x1="396.5" y1="425.66" x2="398.5" y2="425.66" stroke="#222" stroke-width="0.75"/>
<line x1="396.5" y1="422.04" x2="398.5" y2="422.04" stroke="#222" stroke-width="0.75"/>
<line x1="396.5" y1="419.23" x2="398.5" y2="419.23" stroke="#222" stroke-width="0.75"/>
<line x1="396.5" y1="416.93" x2="398.5" y2="416.93" stroke="#222" stroke-width="0.75"/>
<line x1="396.5" y1="414.99" x2="398.5" y2="414.99" stroke="#222" stroke-width="0.75"/>
<line x1="396.5" y1="413.31" x2="398.5" y2="413.31" stroke="#222" stroke-width="0.75"/>
<line x1="396.5" y1="411.83" x2="398.5" y2="411.83" stroke="#222" stroke-width="0.75"/>
<line x1="395.3" y1="410.50" x2="398.5" y2="410.50" stroke="#222" stroke-width="1.0"/>
<text x="392.9" y="500.50" font-family="Liberation Sans, sans-serif" font-size="8.2" fill="#222" text-anchor="end">0.1</text>
<text x="392.9" y="471.50" font-family="Liberation Sans, sans-serif" font-size="8.2" fill="#222" text-anchor="end">1</text>
<text x="392.9" y="442.50" font-family="Liberation Sans, sans-serif" font-size="8.2" fill="#222" text-anchor="end">10</text>
<text x="392.9" y="413.50" font-family="Liberation Sans, sans-serif" font-size="8.2" fill="#222" text-anchor="end">100</text>
<line x1="412" y1="497.5" x2="412" y2="500.5" stroke="#222" stroke-width="0.9"/>
<line x1="439.3" y1="497.5" x2="439.3" y2="500.5" stroke="#222" stroke-width="0.9"/>
<line x1="412.9" y1="403.3" x2="439.6" y2="403.3" stroke="#222" stroke-width="1.3"/>
<line x1="412.9" y1="402.0" x2="412.9" y2="404.6" stroke="#222" stroke-width="1.0"/>
<line x1="439.6" y1="402.0" x2="439.6" y2="404.6" stroke="#222" stroke-width="1.0"/>
<text x="426.55" y="402.40000000000003" font-family="Liberation Sans, sans-serif" font-size="8.6" font-weight="bold" fill="#222" text-anchor="middle" letter-spacing="0.5">***</text>
<circle cx="407.1" cy="457.3" r="1.75" fill="#111"/>
<circle cx="410" cy="456" r="1.75" fill="#111"/>
<circle cx="414.5" cy="456" r="1.75" fill="#111"/>
<circle cx="409.5" cy="460.7" r="1.75" fill="#111"/>
<circle cx="414.9" cy="460.7" r="1.75" fill="#111"/>
<circle cx="414.9" cy="470.1" r="1.75" fill="#111"/>
<circle cx="409.5" cy="472.8" r="1.75" fill="#111"/>
<path d="M437.3,411.0 L439.5,414.90000000000003 L435.1,414.90000000000003 z" fill="#111"/>
<path d="M442.2,411.8 L444.4,415.70000000000005 L440.0,415.70000000000005 z" fill="#111"/>
<path d="M439.3,418.5 L441.5,422.40000000000003 L437.1,422.40000000000003 z" fill="#111"/>
<path d="M435.3,424.2 L437.5,428.1 L433.1,428.1 z" fill="#111"/>
<path d="M439.3,424.8 L441.5,428.70000000000005 L437.1,428.70000000000005 z" fill="#111"/>
<path d="M444.9,423.9 L447.09999999999997,427.8 L442.7,427.8 z" fill="#111"/>
<path d="M440,430.9 L442.2,434.8 L437.8,434.8 z" fill="#111"/>
<path d="M442,420.09999999999997 L444.2,424.0 L439.8,424.0 z" fill="#111"/>
<line x1="403" y1="460.3" x2="421.2" y2="460.3" stroke="#111" stroke-width="1.1"/>
<line x1="412" y1="458.5" x2="412" y2="462" stroke="#111" stroke-width="0.9"/>
<line x1="408.4" y1="458.5" x2="415.6" y2="458.5" stroke="#111" stroke-width="0.9"/>
<line x1="408.4" y1="462" x2="415.6" y2="462" stroke="#111" stroke-width="0.9"/>
<line x1="430.6" y1="421.4" x2="448.7" y2="421.4" stroke="#111" stroke-width="1.1"/>
<line x1="439.3" y1="419" x2="439.3" y2="423.8" stroke="#111" stroke-width="0.9"/>
<line x1="435.7" y1="419" x2="442.90000000000003" y2="419" stroke="#111" stroke-width="0.9"/>
<line x1="435.7" y1="423.8" x2="442.90000000000003" y2="423.8" stroke="#111" stroke-width="0.9"/>
<text class="ta" x="412" y="511.6" font-family="Liberation Serif, serif" font-size="8.6" fill="#222" text-anchor="middle">+/+</text>
<text class="ta" x="440.4" y="511.6" font-family="Liberation Serif, serif" font-size="8.6" fill="#222" text-anchor="middle">&#916;/&#916;</text>
<text transform="translate(200.8,303.1) rotate(-90)" font-family="Liberation Sans, sans-serif" font-size="9.2" fill="#222" text-anchor="middle">Total number (&#215;10<tspan dy="-3" font-size="5.5">4</tspan><tspan dy="3">)</tspan></text>
<text transform="translate(201,451) rotate(-90)" font-family="Liberation Sans, sans-serif" font-size="9.2" fill="#222" text-anchor="middle">Total number (&#215;10<tspan dy="-3" font-size="5.5">4</tspan><tspan dy="3">)</tspan></text>
<line x1="52.5" y1="388.4" x2="52.5" y2="498.6" stroke="#222" stroke-width="1.1"/>
<line x1="52.0" y1="498.2" x2="121.3" y2="498.2" stroke="#222" stroke-width="1.2"/>
<line x1="49.5" y1="498.00" x2="52.5" y2="498.00" stroke="#222" stroke-width="0.9"/>
<text x="46.3" y="501.00" font-family="Liberation Sans, sans-serif" font-size="8.3" fill="#222" text-anchor="end">0</text>
<line x1="49.5" y1="472.85" x2="52.5" y2="472.85" stroke="#222" stroke-width="0.9"/>
<text x="46.3" y="475.85" font-family="Liberation Sans, sans-serif" font-size="8.3" fill="#222" text-anchor="end">25</text>
<line x1="49.5" y1="447.70" x2="52.5" y2="447.70" stroke="#222" stroke-width="0.9"/>
<text x="46.3" y="450.70" font-family="Liberation Sans, sans-serif" font-size="8.3" fill="#222" text-anchor="end">50</text>
<line x1="49.5" y1="422.55" x2="52.5" y2="422.55" stroke="#222" stroke-width="0.9"/>
<text x="46.3" y="425.55" font-family="Liberation Sans, sans-serif" font-size="8.3" fill="#222" text-anchor="end">75</text>
<line x1="49.5" y1="397.40" x2="52.5" y2="397.40" stroke="#222" stroke-width="0.9"/>
<text x="46.3" y="400.40" font-family="Liberation Sans, sans-serif" font-size="8.3" fill="#222" text-anchor="end">100</text>
<line x1="69.6" y1="498.2" x2="69.6" y2="501.2" stroke="#222" stroke-width="0.9"/>
<line x1="104.2" y1="498.2" x2="104.2" y2="501.2" stroke="#222" stroke-width="0.9"/>
<rect x="58.4" y="467.5" width="22.4" height="30.100000000000023" fill="#961f1f"/>
<rect x="58.4" y="455.4" width="22.4" height="12.100000000000023" fill="#b8642a"/>
<rect x="58.4" y="454.6" width="22.4" height="0.7999999999999545" fill="#2f5a30"/>
<rect x="58.4" y="432.6" width="22.4" height="22.0" fill="#8cabd0"/>
<rect x="58.4" y="402.3" width="22.4" height="30.30000000000001" fill="#3158a8"/>
<rect x="58.4" y="397.6" width="22.4" height="4.699999999999989" fill="#6cb06e"/>
<rect x="92.9" y="468.0" width="22.39999999999999" height="29.600000000000023" fill="#961f1f"/>
<rect x="92.9" y="443.1" width="22.39999999999999" height="24.899999999999977" fill="#b8642a"/>
<rect x="92.9" y="442.4" width="22.39999999999999" height="0.7000000000000455" fill="#2f5a30"/>
<rect x="92.9" y="434.6" width="22.39999999999999" height="7.7999999999999545" fill="#8cabd0"/>
<rect x="92.9" y="416.3" width="22.39999999999999" height="18.30000000000001" fill="#3158a8"/>
<rect x="92.9" y="397.6" width="22.39999999999999" height="18.69999999999999" fill="#6cb06e"/>
<line x1="69.6" y1="396.6" x2="69.6" y2="401.6" stroke="#111" stroke-width="1.1"/>
<line x1="66.39999999999999" y1="396.6" x2="72.8" y2="396.6" stroke="#111" stroke-width="1.2"/>
<line x1="69.6" y1="430.0" x2="69.6" y2="432.6" stroke="#111" stroke-width="1.1"/>
<line x1="66.39999999999999" y1="430.0" x2="72.8" y2="430.0" stroke="#111" stroke-width="1.2"/>
<line x1="69.6" y1="452.4" x2="69.6" y2="455.4" stroke="#111" stroke-width="1.1"/>
<line x1="66.39999999999999" y1="452.4" x2="72.8" y2="452.4" stroke="#111" stroke-width="1.2"/>
<line x1="69.6" y1="459.0" x2="69.6" y2="467.5" stroke="#111" stroke-width="1.1"/>
<line x1="66.39999999999999" y1="459.0" x2="72.8" y2="459.0" stroke="#111" stroke-width="1.2"/>
<line x1="104.1" y1="392.3" x2="104.1" y2="397.6" stroke="#111" stroke-width="1.1"/>
<line x1="100.89999999999999" y1="392.3" x2="107.3" y2="392.3" stroke="#111" stroke-width="1.2"/>
<line x1="104.1" y1="412.3" x2="104.1" y2="416.3" stroke="#111" stroke-width="1.1"/>
<line x1="100.89999999999999" y1="412.3" x2="107.3" y2="412.3" stroke="#111" stroke-width="1.2"/>
<line x1="104.1" y1="431.4" x2="104.1" y2="434.2" stroke="#111" stroke-width="1.1"/>
<line x1="100.89999999999999" y1="431.4" x2="107.3" y2="431.4" stroke="#111" stroke-width="1.2"/>
<line x1="100.89999999999999" y1="434.2" x2="107.3" y2="434.2" stroke="#111" stroke-width="1.2"/>
<line x1="104.1" y1="438.6" x2="104.1" y2="442.2" stroke="#111" stroke-width="1.1"/>
<line x1="100.89999999999999" y1="438.6" x2="107.3" y2="438.6" stroke="#111" stroke-width="1.2"/>
<line x1="100.89999999999999" y1="442.2" x2="107.3" y2="442.2" stroke="#111" stroke-width="1.2"/>
<line x1="104.1" y1="456.5" x2="104.1" y2="468.0" stroke="#111" stroke-width="1.1"/>
<line x1="100.89999999999999" y1="456.5" x2="107.3" y2="456.5" stroke="#111" stroke-width="1.2"/>
<text class="ta" x="70" y="511.8" font-family="Liberation Serif, serif" font-size="8.6" fill="#222" text-anchor="middle">+/+</text>
<text class="ta" x="104" y="511.8" font-family="Liberation Serif, serif" font-size="8.6" fill="#222" text-anchor="middle">&#916;/&#916;</text>
<text transform="translate(30.3,442.9) rotate(-90)" font-family="Liberation Sans, sans-serif" font-size="9" fill="#222" text-anchor="middle">% MP</text>
<rect x="127.8" y="397.7" width="4.1" height="4.2" fill="#6cb06e"/>
<text x="135.6" y="402.7" font-family="Liberation Sans, sans-serif" font-size="8" fill="#333">XMP</text>
<rect x="127.8" y="407.2" width="4.1" height="4.2" fill="#3158a8"/>
<text x="135.6" y="412.2" font-family="Liberation Sans, sans-serif" font-size="8" fill="#333">GMP</text>
<rect x="127.8" y="416.7" width="4.1" height="4.2" fill="#8cabd0"/>
<text x="135.6" y="421.7" font-family="Liberation Sans, sans-serif" font-size="8" fill="#333">PreGM</text>
<rect x="127.8" y="426.2" width="4.1" height="4.2" fill="#2f5a30"/>
<text x="135.6" y="431.2" font-family="Liberation Sans, sans-serif" font-size="8" fill="#333">MkP</text>
<rect x="127.8" y="435.79999999999995" width="4.1" height="4.2" fill="#b8642a"/>
<text x="135.6" y="440.79999999999995" font-family="Liberation Sans, sans-serif" font-size="8" fill="#333">MEP</text>
<rect x="127.8" y="445.29999999999995" width="4.1" height="4.2" fill="#961f1f"/>
<text x="135.6" y="450.29999999999995" font-family="Liberation Sans, sans-serif" font-size="8" fill="#333">EryP</text>
<text class="tt" x="168" y="37.4" font-family="Liberation Sans, sans-serif" font-size="8.8" fill="#1e1e1e" stroke="#1e1e1e" stroke-width="0.22"><tspan font-style="italic">Runx1</tspan><tspan dy="-3.2" font-size="5.4">+/+</tspan><tspan dy="3.2" font-style="italic">vav</tspan>-cre</text>
<text class="tt" x="168" y="120.3" font-family="Liberation Sans, sans-serif" font-size="8.8" fill="#1e1e1e" stroke="#1e1e1e" stroke-width="0.22"><tspan font-style="italic">Runx1</tspan><tspan dy="-3.2" font-size="5.4">&#916;/&#916;</tspan><tspan dy="3.2" font-style="italic">vav</tspan>-cre</text>
<rect x="175.2" y="41.2" width="58.400000000000006" height="58.599999999999994" fill="none" stroke="#8e8e8e" stroke-width="0.9"/>
<path transform="translate(208,60.5) scale(1.15) translate(-208,-60.5)" d="M197,63.5 C199,59 207,56.5 214,55.8 C219,55.3 222.5,56 222,57.8 C221,60 214,62.5 207,64 C202,65 197.5,65.5 197,63.5 Z" fill="#808080" fill-opacity="0.06" stroke="#a0a0a0" stroke-opacity="0.7" stroke-width="0.43"/>
<path transform="translate(208,60.5) scale(1.0) translate(-208,-60.5)" d="M197,63.5 C199,59 207,56.5 214,55.8 C219,55.3 222.5,56 222,57.8 C221,60 214,62.5 207,64 C202,65 197.5,65.5 197,63.5 Z" fill="#808080" fill-opacity="0.06" stroke="#a0a0a0" stroke-opacity="0.7" stroke-width="0.50"/>
<path transform="translate(208,60.5) scale(0.85) translate(-208,-60.5)" d="M197,63.5 C199,59 207,56.5 214,55.8 C219,55.3 222.5,56 222,57.8 C221,60 214,62.5 207,64 C202,65 197.5,65.5 197,63.5 Z" fill="#808080" fill-opacity="0.06" stroke="#a0a0a0" stroke-opacity="0.7" stroke-width="0.59"/>
<path transform="translate(208,60.5) scale(0.7) translate(-208,-60.5)" d="M197,63.5 C199,59 207,56.5 214,55.8 C219,55.3 222.5,56 222,57.8 C221,60 214,62.5 207,64 C202,65 197.5,65.5 197,63.5 Z" fill="#808080" fill-opacity="0.06" stroke="#a0a0a0" stroke-opacity="0.7" stroke-width="0.71"/>
<ellipse cx="206" cy="61.3" rx="5" ry="1.1" transform="rotate(-16 206 61.3)" fill="#f4f4f4" stroke="none" stroke-width="0" opacity="1"/>
<path transform="translate(197,80) scale(1.0) translate(-197,-80)" d="M188,73 C191,70 205,69 210,68 C213,67.5 213,71 212,76 C211,82 208,88 203,89 C197,90 190,89.5 188,86 C186.5,82 186.5,76 188,73 Z" fill="#808080" fill-opacity="0.05" stroke="#b0b0b0" stroke-opacity="0.7" stroke-width="0.50"/>
<path transform="translate(197,80) scale(0.88) translate(-197,-80)" d="M188,73 C191,70 205,69 210,68 C213,67.5 213,71 212,76 C211,82 208,88 203,89 C197,90 190,89.5 188,86 C186.5,82 186.5,76 188,73 Z" fill="#808080" fill-opacity="0.05" stroke="#b0b0b0" stroke-opacity="0.7" stroke-width="0.57"/>
<path transform="translate(197,80) scale(0.76) translate(-197,-80)" d="M188,73 C191,70 205,69 210,68 C213,67.5 213,71 212,76 C211,82 208,88 203,89 C197,90 190,89.5 188,86 C186.5,82 186.5,76 188,73 Z" fill="#808080" fill-opacity="0.05" stroke="#b0b0b0" stroke-opacity="0.7" stroke-width="0.66"/>
<ellipse cx="191.8" cy="80.5" rx="2.6" ry="7.2" transform="rotate(0 191.8 80.5)" fill="none" stroke="#5a5a5a" stroke-width="1.8" opacity="0.9" filter="url(#bl)"/>
<ellipse cx="199.6" cy="81" rx="3.8" ry="6.6" transform="rotate(0 199.6 81)" fill="none" stroke="#7a7a7a" stroke-width="1.5" opacity="0.9" filter="url(#bl)"/>
<ellipse cx="199.6" cy="81" rx="1.8" ry="4.2" transform="rotate(0 199.6 81)" fill="none" stroke="#b8b8b8" stroke-width="0.7" opacity="1"/>
<rect x="181.4" y="50.2" width="49.19999999999999" height="18.0" fill="none" stroke="#b3b3b3" stroke-width="0.8"/>
<text x="183" y="58.6" font-family="Liberation Sans, sans-serif" font-size="9" fill="#1e1e1e" text-anchor="start" stroke="#1e1e1e" stroke-width="0.22">MP</text>
<text x="176.5" y="96.6" font-family="Liberation Sans, sans-serif" font-size="9.2" fill="#1e1e1e" stroke="#1e1e1e" stroke-width="0.22">lin<tspan dy="-3.4" font-size="5.6">neg</tspan><tspan dy="3.4">sca</tspan><tspan dy="-3.4" font-size="5.6">neg</tspan></text>
<line x1="229" y1="50.2" x2="261.7" y2="50.2" stroke="#222" stroke-width="0.9"/>
<path d="M264.2,50.2 L260.8,48.300000000000004 L260.8,52.1 z" fill="#111"/>
<rect x="257.8" y="41.2" width="59.5" height="58.8" fill="none" stroke="#8e8e8e" stroke-width="0.9"/>
<ellipse cx="286" cy="82.5" rx="11" ry="9.5" transform="rotate(0 286 82.5)" fill="#b8b8b8" stroke="none" stroke-width="0" opacity="0.85" filter="url(#bl2)"/>
<ellipse cx="286" cy="82.5" rx="13.5" ry="11.5" transform="rotate(-10 286 82.5)" fill="none" stroke="#d0d0d0" stroke-width="0.6" opacity="1"/>
<ellipse cx="286" cy="82.5" rx="11.5" ry="9.8" transform="rotate(-10 286 82.5)" fill="none" stroke="#c0c0c0" stroke-width="0.6" opacity="1"/>
<ellipse cx="286" cy="82.5" rx="9.5" ry="8" transform="rotate(-10 286 82.5)" fill="none" stroke="#b0b0b0" stroke-width="0.6" opacity="1"/>
<ellipse cx="284.5" cy="81.5" rx="4.5" ry="5" transform="rotate(0 284.5 81.5)" fill="#e6e6e6" stroke="none" stroke-width="0" opacity="1" filter="url(#bl)"/>
<ellipse cx="295.4" cy="65.9" rx="12.5" ry="5.6" transform="rotate(-8 295.4 65.9)" fill="none" stroke="#d4d4d4" stroke-width="0.6" opacity="1"/>
<ellipse cx="295.4" cy="65.9" rx="10.5" ry="4.6" transform="rotate(-8 295.4 65.9)" fill="none" stroke="#b0b0b0" stroke-width="0.6" opacity="1"/>
<ellipse cx="295.2" cy="66.0" rx="7.6" ry="3.1" transform="rotate(-8 295.2 66.0)" fill="#505050" stroke="none" stroke-width="0" opacity="0.9"/>
<ellipse cx="295.8" cy="66.2" rx="2.6" ry="1.0" transform="rotate(-8 295.8 66.2)" fill="#f4f4f4" stroke="none" stroke-width="0" opacity="1"/>
<rect x="262.4" y="57.2" width="50.200000000000045" height="15.700000000000003" fill="none" stroke="#d9bcbc" stroke-width="0.8"/>
<rect x="262.4" y="73.4" width="50.200000000000045" height="21.89999999999999" fill="none" stroke="#a8a8a8" stroke-width="0.8"/>
<text x="264" y="65.5" font-family="Liberation Sans, sans-serif" font-size="9" fill="#1e1e1e" text-anchor="start" stroke="#1e1e1e" stroke-width="0.22">EryP</text>
<line x1="312.6" y1="81.6" x2="338.5" y2="81.6" stroke="#222" stroke-width="0.9"/>
<path d="M341,81.6 L337.6,79.69999999999999 L337.6,83.5 z" fill="#111"/>
<path d="M341.5,25.5 L341.5,97.6 L397.2,97.6" fill="none" stroke="#8e8e8e" stroke-width="0.9"/>
<path transform="translate(367,47) scale(1.0) translate(-367,-47)" d="M350,37.5 C356,34.5 377,34 384,40 C389,45 388.5,58 384.5,66 C380.5,73.5 372,78.5 366,78.5 C359,78.5 353,72.5 351,64 C349,55 348,43 350,37.5 Z" fill="#707070" fill-opacity="0.07" stroke="#a0a0a0" stroke-opacity="0.7" stroke-width="0.50"/>
<path transform="translate(367,47) scale(0.9) translate(-367,-47)" d="M350,37.5 C356,34.5 377,34 384,40 C389,45 388.5,58 384.5,66 C380.5,73.5 372,78.5 366,78.5 C359,78.5 353,72.5 351,64 C349,55 348,43 350,37.5 Z" fill="#707070" fill-opacity="0.07" stroke="#a0a0a0" stroke-opacity="0.7" stroke-width="0.56"/>
<path transform="translate(367,47) scale(0.8) translate(-367,-47)" d="M350,37.5 C356,34.5 377,34 384,40 C389,45 388.5,58 384.5,66 C380.5,73.5 372,78.5 366,78.5 C359,78.5 353,72.5 351,64 C349,55 348,43 350,37.5 Z" fill="#707070" fill-opacity="0.07" stroke="#a0a0a0" stroke-opacity="0.7" stroke-width="0.62"/>
<path transform="translate(367,47) scale(0.7) translate(-367,-47)" d="M350,37.5 C356,34.5 377,34 384,40 C389,45 388.5,58 384.5,66 C380.5,73.5 372,78.5 366,78.5 C359,78.5 353,72.5 351,64 C349,55 348,43 350,37.5 Z" fill="#707070" fill-opacity="0.07" stroke="#a0a0a0" stroke-opacity="0.7" stroke-width="0.71"/>
<path transform="translate(367,47) scale(0.6) translate(-367,-47)" d="M350,37.5 C356,34.5 377,34 384,40 C389,45 388.5,58 384.5,66 C380.5,73.5 372,78.5 366,78.5 C359,78.5 353,72.5 351,64 C349,55 348,43 350,37.5 Z" fill="#707070" fill-opacity="0.07" stroke="#a0a0a0" stroke-opacity="0.7" stroke-width="0.83"/>
<path transform="translate(367,47) scale(0.5) translate(-367,-47)" d="M350,37.5 C356,34.5 377,34 384,40 C389,45 388.5,58 384.5,66 C380.5,73.5 372,78.5 366,78.5 C359,78.5 353,72.5 351,64 C349,55 348,43 350,37.5 Z" fill="#707070" fill-opacity="0.07" stroke="#a0a0a0" stroke-opacity="0.7" stroke-width="1.00"/>
<path transform="translate(367,47) scale(0.4) translate(-367,-47)" d="M350,37.5 C356,34.5 377,34 384,40 C389,45 388.5,58 384.5,66 C380.5,73.5 372,78.5 366,78.5 C359,78.5 353,72.5 351,64 C349,55 348,43 350,37.5 Z" fill="#707070" fill-opacity="0.07" stroke="#a0a0a0" stroke-opacity="0.7" stroke-width="1.25"/>
<ellipse cx="366" cy="41.5" rx="13" ry="5.5" transform="rotate(0 366 41.5)" fill="#9c9c9c" stroke="none" stroke-width="0" opacity="0.8" filter="url(#bl2)"/>
<ellipse cx="370" cy="40" rx="6" ry="2.4" transform="rotate(0 370 40)" fill="#7c7c7c" stroke="none" stroke-width="0" opacity="0.8" filter="url(#bl)"/>
<path d="M359.5,58 C362,54 365,51 368,50.5 C372,50.5 375.5,53 377,55 C373,58 370,61 367,62 C364,61.5 361.5,60 359.5,58 Z" fill="#a4a4a4" stroke="#7a7a7a" stroke-width="0.9" stroke-linejoin="round" filter="url(#bl)"/>
<path d="M359.8,58.2 C362,60 364.5,61.5 367,62.2" fill="none" stroke="#2e2e2e" stroke-width="1.6" stroke-linecap="round" filter="url(#bl)"/>
<path d="M368.5,50.4 C372,50.6 375,52.8 377.2,55.2" fill="none" stroke="#2e2e2e" stroke-width="1.5" stroke-linecap="round" filter="url(#bl)"/>
<path d="M363.5,56.8 C365,55 367,53.5 368.5,53.3 C370.5,53.5 372,54.5 373,55.5 C371,57 369.5,58.3 367.5,58.8 C366,58.5 364.5,57.8 363.5,56.8 Z" fill="#ffffff" filter="url(#bl)"/>
<rect x="345.5" y="27.9" width="32.69999999999999" height="18.6" fill="none" stroke="#a2a9c4" stroke-width="0.8"/>
<rect x="345.5" y="50" width="32.69999999999999" height="40.3" fill="none" stroke="#bcc3d6" stroke-width="0.8"/>
<rect x="378.2" y="50" width="17.400000000000034" height="40.3" fill="none" stroke="#c2ab8d" stroke-width="0.8"/>
<text x="346.4" y="37.4" font-family="Liberation Sans, sans-serif" font-size="9" fill="#1e1e1e" text-anchor="start" stroke="#1e1e1e" stroke-width="0.22">GMP</text>
<text x="346.4" y="89.4" font-family="Liberation Sans, sans-serif" font-size="9" fill="#1e1e1e" text-anchor="start" stroke="#1e1e1e" stroke-width="0.22">preGM</text>
<text x="379.4" y="89.4" font-family="Liberation Sans, sans-serif" font-size="9" fill="#1e1e1e" text-anchor="start" stroke="#1e1e1e" stroke-width="0.22">MEP</text>
<line x1="395.6" y1="67.3" x2="409.7" y2="67.3" stroke="#222" stroke-width="0.9"/>
<path d="M412.2,67.3 L408.8,65.39999999999999 L408.8,69.2 z" fill="#111"/>
<path d="M429.5,31.3 L429.5,95.5 L513.3,95.5" fill="none" stroke="#111" stroke-width="1.3"/>
<path d="M442.3,95.4 L445,93 L447,89 L448.8,84.2 L450.8,76.5 L452.3,68.8 L453.7,61.2 L455,53.5 L456,49.6 L456.5,47.7 L457.5,45.8 L458,47.7 L458.8,43.8 L459.4,41.9 L460,45.8 L460.4,43 L461,49.6 L462.3,55.4 L463.8,59.2 L465.2,62.1 L466.2,67 L467.1,72.7 L469,76.5 L471,79.4 L472.9,81.3 L474.5,82.5 L475.8,85.2 L478.7,88.1 L481.5,91 L485.4,93.5 L489.2,95.4 Z" fill="#c9c9c9" stroke="#111" stroke-width="1.3" stroke-linejoin="round"/>
<line x1="469.6" y1="67.9" x2="491.2" y2="67.9" stroke="#8a8a70" stroke-width="0.9"/>
<line x1="469.6" y1="66.6" x2="469.6" y2="69.2" stroke="#8a8a70" stroke-width="0.8"/>
<line x1="491.2" y1="66.6" x2="491.2" y2="69.2" stroke="#8a8a70" stroke-width="0.8"/>
<text x="480.3" y="63.4" font-family="Liberation Sans, sans-serif" font-size="7.5" fill="#1e1e1e" text-anchor="middle" stroke="#1e1e1e" stroke-width="0.22">MkP</text>
<rect x="174.6" y="121.5" width="59.0" height="59.099999999999994" fill="none" stroke="#8e8e8e" stroke-width="0.9"/>
<path transform="translate(210,141) scale(1.08) translate(-210,-141)" d="M195,141.5 C197,138.5 205,137.2 212,137.4 C218,137.6 224,138 225,139 C225.5,140.5 218,142.5 212,143.5 C205,144.6 198,145.5 196,144.5 C194.5,143.8 194.5,142.5 195,141.5 Z" fill="none" stroke="#d0d0d0" stroke-width="0.51"/>
<path transform="translate(210,141) scale(0.95) translate(-210,-141)" d="M195,141.5 C197,138.5 205,137.2 212,137.4 C218,137.6 224,138 225,139 C225.5,140.5 218,142.5 212,143.5 C205,144.6 198,145.5 196,144.5 C194.5,143.8 194.5,142.5 195,141.5 Z" fill="none" stroke="#bcbcbc" stroke-width="0.58"/>
<path d="M195.3,141.6 C197.5,138.6 206,137.4 214,137.6 C219,137.8 219,140 214,141.4 C207,143.2 199,145 196.4,144.4 C195,143.8 194.8,142.4 195.3,141.6 Z" fill="#e8e8e8" stroke="#383838" stroke-width="1.6"/>
<path d="M214,137.8 C220,137.8 225,138.2 226,139.2 C226,140.5 220,141.6 214,142.4" fill="none" stroke="#9a9a9a" stroke-width="0.8"/>
<path transform="translate(200,160) scale(1.0) translate(-200,-160)" d="M187,153 C190,150.5 205,150 213,151 C215,152 214.5,160 213,166 C211,170 205,170 200,170 C193,170 188,169.5 187,166 C186,162 186,156 187,153 Z" fill="#808080" fill-opacity="0.05" stroke="#b0b0b0" stroke-opacity="0.7" stroke-width="0.50"/>
<path transform="translate(200,160) scale(0.88) translate(-200,-160)" d="M187,153 C190,150.5 205,150 213,151 C215,152 214.5,160 213,166 C211,170 205,170 200,170 C193,170 188,169.5 187,166 C186,162 186,156 187,153 Z" fill="#808080" fill-opacity="0.05" stroke="#b0b0b0" stroke-opacity="0.7" stroke-width="0.57"/>
<path transform="translate(200,160) scale(0.76) translate(-200,-160)" d="M187,153 C190,150.5 205,150 213,151 C215,152 214.5,160 213,166 C211,170 205,170 200,170 C193,170 188,169.5 187,166 C186,162 186,156 187,153 Z" fill="#808080" fill-opacity="0.05" stroke="#b0b0b0" stroke-opacity="0.7" stroke-width="0.66"/>
<path transform="translate(200,160) scale(0.64) translate(-200,-160)" d="M187,153 C190,150.5 205,150 213,151 C215,152 214.5,160 213,166 C211,170 205,170 200,170 C193,170 188,169.5 187,166 C186,162 186,156 187,153 Z" fill="#808080" fill-opacity="0.05" stroke="#b0b0b0" stroke-opacity="0.7" stroke-width="0.78"/>
<ellipse cx="191.3" cy="160.4" rx="2.9" ry="7.8" transform="rotate(0 191.3 160.4)" fill="none" stroke="#7a7a7a" stroke-width="1.9" opacity="0.9" filter="url(#bl)"/>
<ellipse cx="200.2" cy="160.6" rx="4.3" ry="7.8" transform="rotate(0 200.2 160.6)" fill="none" stroke="#848484" stroke-width="1.8" opacity="0.9" filter="url(#bl)"/>
<ellipse cx="200.2" cy="160.6" rx="1.8" ry="5" transform="rotate(0 200.2 160.6)" fill="none" stroke="#c8c8c8" stroke-width="0.7" opacity="1"/>
<rect x="181.2" y="130.8" width="49.400000000000006" height="18.399999999999977" fill="none" stroke="#b3b3b3" stroke-width="0.8"/>
<text x="183.4" y="139.9" font-family="Liberation Sans, sans-serif" font-size="9" fill="#1e1e1e" text-anchor="start" stroke="#1e1e1e" stroke-width="0.22">MP</text>
<text x="176.3" y="178.6" font-family="Liberation Sans, sans-serif" font-size="9.2" fill="#1e1e1e" stroke="#1e1e1e" stroke-width="0.22">lin<tspan dy="-3.4" font-size="5.6">neg</tspan><tspan dy="3.4">sca</tspan><tspan dy="-3.4" font-size="5.6">neg</tspan></text>
<line x1="229.2" y1="130.8" x2="261.4" y2="130.8" stroke="#222" stroke-width="0.9"/>
<path d="M263.9,130.8 L260.5,128.9 L260.5,132.70000000000002 z" fill="#111"/>
<path d="M170.5,166.3 L170.5,189.6 L206.9,189.6" fill="none" stroke="#111" stroke-width="1.4"/>
<path d="M170.5,162.3 L167.9,167.5 L173.1,167.5 z" fill="#111"/>
<path d="M210.9,189.6 L205.70000000000002,187.0 L205.70000000000002,192.2 z" fill="#111"/>
<text transform="translate(173.4,155.2) rotate(-90)" font-family="Liberation Sans, sans-serif" font-size="9.2" fill="#1e1e1e" stroke="#1e1e1e" stroke-width="0.22" text-anchor="middle">kit</text>
<text x="213.6" y="192.6" font-family="Liberation Sans, sans-serif" font-size="9.3" fill="#1e1e1e" text-anchor="start" stroke="#1e1e1e" stroke-width="0.22">FSC</text>
<rect x="257.9" y="121.5" width="59.200000000000045" height="58.69999999999999" fill="none" stroke="#8e8e8e" stroke-width="0.9"/>
<path transform="translate(292,157.5) scale(1.1) translate(-292,-157.5)" d="M279,170 C276,165 277,156 282,151 C288,146 297,143 304,143.5 C309,144 309,149 305,155 C300,162 292,169 286,171 C283,172 280.5,171.5 279,170 Z" fill="#707070" fill-opacity="0.08" stroke="#a0a0a0" stroke-opacity="0.7" stroke-width="0.45"/>
<path transform="translate(292,157.5) scale(0.98) translate(-292,-157.5)" d="M279,170 C276,165 277,156 282,151 C288,146 297,143 304,143.5 C309,144 309,149 305,155 C300,162 292,169 286,171 C283,172 280.5,171.5 279,170 Z" fill="#707070" fill-opacity="0.08" stroke="#a0a0a0" stroke-opacity="0.7" stroke-width="0.51"/>
<path transform="translate(292,157.5) scale(0.86) translate(-292,-157.5)" d="M279,170 C276,165 277,156 282,151 C288,146 297,143 304,143.5 C309,144 309,149 305,155 C300,162 292,169 286,171 C283,172 280.5,171.5 279,170 Z" fill="#707070" fill-opacity="0.08" stroke="#a0a0a0" stroke-opacity="0.7" stroke-width="0.58"/>
<path transform="translate(292,157.5) scale(0.74) translate(-292,-157.5)" d="M279,170 C276,165 277,156 282,151 C288,146 297,143 304,143.5 C309,144 309,149 305,155 C300,162 292,169 286,171 C283,172 280.5,171.5 279,170 Z" fill="#707070" fill-opacity="0.08" stroke="#a0a0a0" stroke-opacity="0.7" stroke-width="0.68"/>
<path transform="translate(292,157.5) scale(0.62) translate(-292,-157.5)" d="M279,170 C276,165 277,156 282,151 C288,146 297,143 304,143.5 C309,144 309,149 305,155 C300,162 292,169 286,171 C283,172 280.5,171.5 279,170 Z" fill="#707070" fill-opacity="0.08" stroke="#a0a0a0" stroke-opacity="0.7" stroke-width="0.81"/>
<path d="M283,151 C279,155 278.5,163 281,168 C283.5,171.5 289,170 291,165 C293,160 292,153 288,150 Z" fill="#a0a0a0" opacity="0.6" filter="url(#bl2)"/>
<path d="M283,153 C280,156 279.5,163 281.5,167.5 C283.5,170.5 288,169 289.5,165" fill="none" stroke="#444" stroke-width="1.5"/>
<ellipse cx="285.5" cy="160.5" rx="2.6" ry="5.2" transform="rotate(-12 285.5 160.5)" fill="#f0f0f0" stroke="none" stroke-width="0" opacity="1"/>
<ellipse cx="295" cy="155" rx="5" ry="4" transform="rotate(-35 295 155)" fill="none" stroke="#a0a0a0" stroke-width="0.8" opacity="1"/>
<rect x="262.8" y="137.5" width="49.0" height="16.599999999999994" fill="none" stroke="#d9bcbc" stroke-width="0.8"/>
<rect x="262.8" y="154.1" width="49.0" height="21.30000000000001" fill="none" stroke="#a8a8a8" stroke-width="0.8"/>
<text x="264.2" y="147.3" font-family="Liberation Sans, sans-serif" font-size="9" fill="#1e1e1e" text-anchor="start" stroke="#1e1e1e" stroke-width="0.22">EryP</text>
<line x1="311.8" y1="171.3" x2="337.9" y2="171.3" stroke="#222" stroke-width="0.9"/>
<path d="M340.4,171.3 L337.0,169.4 L337.0,173.20000000000002 z" fill="#111"/>
<path d="M253.1,166.8 L253.1,189.6 L289.5,189.6" fill="none" stroke="#111" stroke-width="1.4"/>
<path d="M253.1,162.8 L250.5,168.0 L255.7,168.0 z" fill="#111"/>
<path d="M293.5,189.6 L288.3,187.0 L288.3,192.2 z" fill="#111"/>
<text transform="translate(256.6,146.6) rotate(-90)" font-family="Liberation Sans, sans-serif" font-size="9.2" fill="#1e1e1e" stroke="#1e1e1e" stroke-width="0.22" text-anchor="middle">CD105</text>
<text x="296" y="192.6" font-family="Liberation Sans, sans-serif" font-size="9.3" fill="#1e1e1e" text-anchor="start" stroke="#1e1e1e" stroke-width="0.22">FSC</text>
<path d="M341.5,105.8 L341.5,177.5 L398.8,177.5" fill="none" stroke="#8e8e8e" stroke-width="0.9"/>
<path d="M376.4,126.4 C370.0,126.8 369.6,135.2 376.8,138.0" fill="none" stroke="#b0b0b0" stroke-width="0.6"/>
<path d="M375.6,126.6 C366.0,127.2 365.4,138.8 376.2,143.0" fill="none" stroke="#b8b8b8" stroke-width="0.6"/>
<path d="M374.8,126.8 C362.0,127.6 361.2,142.4 375.6,148.0" fill="none" stroke="#bebebe" stroke-width="0.6"/>
<path d="M374.0,127.0 C358.0,128.0 357.0,146.0 375.0,153.0" fill="none" stroke="#c4c4c4" stroke-width="0.6"/>
<path d="M373.2,127.2 C354.0,128.4 352.8,149.6 374.4,158.0" fill="none" stroke="#cacaca" stroke-width="0.6"/>
<path d="M372.4,127.4 C350.0,128.8 348.6,153.2 373.8,163.0" fill="none" stroke="#d0d0d0" stroke-width="0.6"/>
<ellipse cx="373" cy="136" rx="5" ry="5" transform="rotate(0 373 136)" fill="#a8a8a8" stroke="none" stroke-width="0" opacity="0.8" filter="url(#bl)"/>
<rect x="350.5" y="121.5" width="26.5" height="10.5" fill="#c4c4cc" opacity="0.7" filter="url(#bl)"/>
<line x1="352" y1="123.2" x2="376" y2="123.2" stroke="#e8e8ee" stroke-width="0.5"/>
<line x1="352" y1="125.0" x2="376" y2="125.0" stroke="#e8e8ee" stroke-width="0.5"/>
<line x1="352" y1="128.6" x2="376" y2="128.6" stroke="#e8e8ee" stroke-width="0.5"/>
<line x1="352" y1="130.2" x2="376" y2="130.2" stroke="#e8e8ee" stroke-width="0.5"/>
<path d="M377.8,132 C380,128.5 385,126.8 388.5,128.5 C392,130.5 392.5,140 391.5,150 L390.5,161 L384,161 C384,152 383.5,143 381.5,138 C380.5,135.5 379,134 377.8,134 Z" fill="#b8b8c0" stroke="none" filter="url(#bl)"/>
<path d="M378.2,131.2 C380.5,128.5 385,127.4 388.5,129 C391.5,131 391.5,140 390.8,150 L390,160" fill="none" stroke="#5e5e66" stroke-width="1.2"/>
<path d="M381.5,137.5 C383.5,143 384.5,151 384.8,160" fill="none" stroke="#7a7a80" stroke-width="1.0"/>
<rect x="345" y="109.2" width="32.5" height="17.599999999999994" fill="none" stroke="#a2a9c4" stroke-width="0.8"/>
<rect x="345" y="130.6" width="32.5" height="40.400000000000006" fill="none" stroke="#bcc3d6" stroke-width="0.8"/>
<rect x="377.5" y="114" width="17.100000000000023" height="57" fill="none" stroke="#c8c0aa" stroke-width="0.8"/>
<line x1="377.5" y1="139.3" x2="394.6" y2="139.3" stroke="#a09868" stroke-width="1.0"/>
<text x="346.9" y="118.6" font-family="Liberation Sans, sans-serif" font-size="9" fill="#1e1e1e" text-anchor="start" stroke="#1e1e1e" stroke-width="0.22">GMP</text>
<text x="378.4" y="122.3" font-family="Liberation Sans, sans-serif" font-size="8.8" fill="#1e1e1e" text-anchor="start" stroke="#1e1e1e" stroke-width="0.22">XMP</text>
<text x="347.5" y="170.7" font-family="Liberation Sans, sans-serif" font-size="9" fill="#1e1e1e" text-anchor="start" stroke="#1e1e1e" stroke-width="0.22">preGM</text>
<text x="378.4" y="170.7" font-family="Liberation Sans, sans-serif" font-size="8.8" fill="#1e1e1e" text-anchor="start" stroke="#1e1e1e" stroke-width="0.22">MEP</text>
<line x1="394.5" y1="156.9" x2="409.3" y2="156.9" stroke="#222" stroke-width="0.9"/>
<path d="M411.8,156.9 L408.40000000000003,155.0 L408.40000000000003,158.8 z" fill="#111"/>
<path d="M333.5,166.8 L333.5,189.6 L369.8,189.6" fill="none" stroke="#111" stroke-width="1.4"/>
<path d="M333.5,162.8 L330.9,168.0 L336.1,168.0 z" fill="#111"/>
<path d="M373.8,189.6 L368.6,187.0 L368.6,192.2 z" fill="#111"/>
<text transform="translate(338.3,140) rotate(-90)" font-family="Liberation Sans, sans-serif" font-size="9.2" fill="#1e1e1e" stroke="#1e1e1e" stroke-width="0.22" text-anchor="middle">CD16/32</text>
<text x="376" y="192.6" font-family="Liberation Sans, sans-serif" font-size="9.3" fill="#1e1e1e" text-anchor="start" stroke="#1e1e1e" stroke-width="0.22">CD150</text>
<path d="M429.5,107.5 L429.5,172 L512.7,172" fill="none" stroke="#111" stroke-width="1.3"/>
<path d="M440.2,172.1 L445.2,161.5 L450.2,145.4 L453.3,133.3 L455.9,121.2 L457,117 L457.5,114.5 L458.5,116 L459.3,115 L460,118 L461.3,123.2 L463.3,139.4 L465,151 L466.4,161.5 L469.4,164.6 L471.5,163.5 L473.4,161.5 L475.5,159.5 L477.5,159.1 L479,160.5 L480.5,163.5 L482.5,168.6 L485,170 L488.5,170.8 L490.6,172.1 Z" fill="#c9c9c9" stroke="#111" stroke-width="1.3" stroke-linejoin="round"/>
<line x1="469.4" y1="142.4" x2="490.6" y2="142.4" stroke="#8a8a70" stroke-width="0.9"/>
<line x1="469.4" y1="141.1" x2="469.4" y2="143.7" stroke="#8a8a70" stroke-width="0.8"/>
<line x1="490.6" y1="141.1" x2="490.6" y2="143.7" stroke="#8a8a70" stroke-width="0.8"/>
<text x="479.8" y="137.4" font-family="Liberation Sans, sans-serif" font-size="7.5" fill="#1e1e1e" text-anchor="middle" stroke="#1e1e1e" stroke-width="0.22">MkP</text>
<line x1="429" y1="180.5" x2="484" y2="180.5" stroke="#111" stroke-width="1.1"/>
<path d="M488,180.5 L482.5,178.1 L482.5,182.9 z" fill="#111"/>
<text x="490.9" y="183.9" font-family="Liberation Sans, sans-serif" font-size="9.7" fill="#1e1e1e" letter-spacing="-0.55">CD41</text>
<rect x="0.5" y="0.5" width="519" height="520" fill="none" stroke="#2a2a2a" stroke-width="1"/>
</svg>
</body></html>
